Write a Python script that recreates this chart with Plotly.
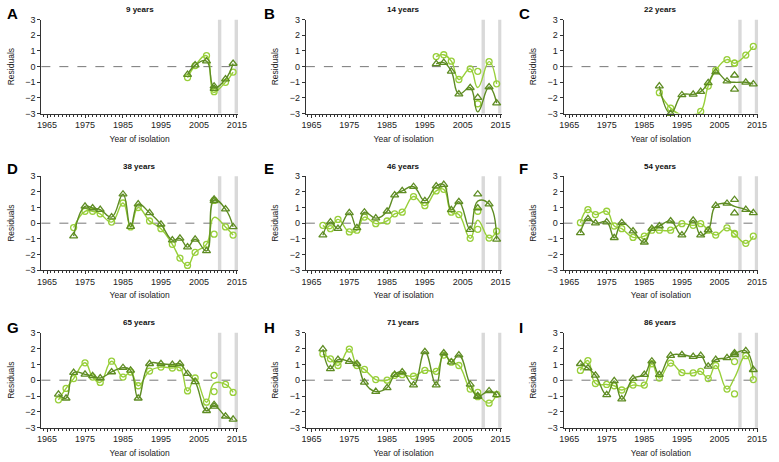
import plotly.graph_objects as go
from collections import OrderedDict

# ---------------- data ----------------
yrs_full = [1968, 1970, 1972, 1975, 1977, 1979, 1982, 1985, 1987, 1989, 1992,
            1995, 1998, 2000, 2002, 2004, 2007, 2009, 2009, 2012, 2014]

A_years = [2002, 2004, 2007, 2009, 2009, 2012, 2014]
A_light = [-0.7, 0.07, 0.7, -1.45, -1.6, -1.0, -0.35]
A_dark = [-0.51, 0.1, 0.35, -1.25, -1.4, -0.8, 0.2]

B_years = [1998, 2000, 2002, 2004, 2007, 2009, 2009, 2012, 2014]
B_light = [0.64, 0.76, 0.35, -0.82, -0.14, -0.3, -2.37, 0.32, -1.1]
B_dark = [0.18, 0.26, -0.3, -1.75, -1.35, -1.98, -3.8, -1.3, -2.33]

C_years = [1989, 1992, 1995, 1998, 2000, 2002, 2004, 2007, 2009, 2009, 2012, 2014]
C_light = [-1.66, -2.65, -3.1, -3.07, -2.86, -1.24, -0.24, 0.45, 0.22, 0.22, 0.74, 1.29]
C_dark = [-1.24, -3.0, -1.81, -1.77, -1.6, -1.04, -0.35, -0.93, -0.55, -1.45, -1.0, -1.12]

D_years = [1972, 1975, 1977, 1979, 1982, 1985, 1987, 1989, 1992, 1995, 1998,
           2000, 2002, 2004, 2007, 2009, 2009, 2012, 2014]
D_light = [-0.28, 0.76, 0.76, 0.6, 0.07, 1.29, -0.24, 1.0, 0.14, -0.35, -1.35,
           -2.23, -2.7, -1.87, -1.35, -0.7, 1.45, -0.24, -0.76]
D_dark = [-0.83, 1.08, 0.97, 0.87, 0.39, 1.85, -0.22, 1.22, 0.66, -0.07, -1.08,
          -0.97, -1.53, -1.03, -1.77, 1.53, 1.43, 0.9, -0.24]

E_years = yrs_full
E_light = [-0.14, -0.35, 0.24, -0.56, -0.45, 0.39, -0.03, 0.14, 0.6, 0.7, 1.7,
           1.12, 2.06, 2.16, 0.7, 0.55, -0.97, 0.76, -0.39, -0.95, -0.51]
E_dark = [-0.77, 0.07, -0.35, 0.66, -0.3, 0.7, 0.32, 0.76, 1.79, 2.06, 2.33,
          1.43, 2.37, 2.46, 0.85, 1.37, -0.41, 1.85, 0.97, 1.22, -1.04]

F_years = yrs_full
F_light = [0.03, 0.87, 0.55, 0.76, -0.18, -0.35, -0.91, -0.83, -0.45, -0.45, -0.45,
           -0.03, -0.14, -0.03, -0.45, -0.76, -0.3, -0.66, -0.7, -1.29, -0.83]
F_dark = [-0.62, 0.28, 0.0, 0.07, -0.93, 0.03, -0.51, -1.22, -0.35, -0.18, 0.14,
          -0.76, 0.18, -0.76, -0.45, 1.12, 1.26, 1.5, 0.64, 0.87, 0.66]

G_years = yrs_full
G_light = [-1.24, -0.52, 0.1, 1.1, 0.2, -0.14, 1.2, 0.2, 0.52, -0.35, 0.58,
           0.83, 0.77, 0.79, -0.68, 0.14, -1.39, 0.31, -0.72, -0.27, -0.77]
G_dark = [-0.89, -1.14, 0.48, 0.37, 0.27, 0.14, 0.52, 0.79, 0.62, -1.14, 1.04,
          1.04, 0.99, 1.04, 0.41, -0.1, -1.93, -1.66, -1.55, -2.28, -2.48]

H_years = yrs_full
H_light = [1.66, 1.35, 0.93, 1.97, 0.93, 0.68, 0.04, 0.0, 0.31, 0.35, 0.25,
           0.62, 0.56, 1.59, 1.14, 0.93, -0.56, -0.77, -1.04, -1.45, -0.89]
H_dark = [1.97, 0.72, 1.3, 1.18, 1.04, -0.14, -0.72, -0.48, 0.35, 0.52, -0.31,
          1.8, -0.31, 1.72, 1.14, 1.59, -0.27, -0.99, -1.04, -0.68, -0.93]

I_years = yrs_full
I_light = [0.62, 1.24, -0.21, -0.27, -0.35, -0.62, -0.31, -0.31, 1.04, 0.14, 1.08,
           0.48, 0.46, 0.56, 0.1, 0.93, -0.56, 1.18, -0.87, 1.55, 0.04]
I_dark = [1.04, 0.77, 0.31, -0.93, -0.04, -1.2, 0.1, 0.35, 1.2, 0.35, 1.55,
          1.61, 1.49, 1.55, 0.87, 1.3, 1.41, 1.72, 1.61, 1.86, 0.66]

panel_letters = ["A", "B", "C", "D", "E", "F", "G", "H", "I"]
panel_titles = ["9 years", "14 years", "22 years", "38 years", "46 years",
                "54 years", "65 years", "71 years", "86 years"]
panel_data = [(A_years, A_light, A_dark), (B_years, B_light, B_dark),
              (C_years, C_light, C_dark), (D_years, D_light, D_dark),
              (E_years, E_light, E_dark), (F_years, F_light, F_dark),
              (G_years, G_light, G_dark), (H_years, H_light, H_dark),
              (I_years, I_light, I_dark)]

x_tickvals = [1965, 1975, 1985, 1995, 2005, 2015]
y_tickvals = [-3, -2, -1, 0, 1, 2, 3]
highlight_years = [(2010.0, 2010.9), (2014.4, 2015.3)]

# ---------------- styling ----------------
W, H = 779, 462
LIGHT = "#98CF3A"
DARK = "#5E8C23"
FONT = "Arial, Liberation Sans, sans-serif"
AXC = "#333333"

cols_px = [(38, 238), (307, 506), (569, 767)]
rows_px = [(15, 111), (175, 271), (335, 432)]
title_y = [5, 165, 325]
letter_y = [9, 167, 330]
letter_x = [1, 262, 522]

fig = go.Figure()


def means(xs, ys):
    d = OrderedDict()
    for x, y in zip(xs, ys):
        d.setdefault(x, []).append(y)
    return list(d.keys()), [sum(v) / len(v) for v in d.values()]


annotations = []
shapes = []
for i, (yrs, light, dark) in enumerate(panel_data):
    r, c = divmod(i, 3)
    n = i + 1
    xa = "x" if n == 1 else f"x{n}"
    ya = "y" if n == 1 else f"y{n}"
    xl = "xaxis" if n == 1 else f"xaxis{n}"
    yl = "yaxis" if n == 1 else f"yaxis{n}"
    x0, x1 = cols_px[c]
    y0, y1 = rows_px[r]

    for vals, color, sym, size in [(light, LIGHT, "circle-open", 6),
                                   (dark, DARK, "triangle-up-open", 7)]:
        mx, my = means(yrs, vals)
        fig.add_trace(go.Scatter(x=mx, y=my, mode="lines",
                                 line=dict(color=color, width=1.4, shape="spline", smoothing=1.3),
                                 xaxis=xa, yaxis=ya, showlegend=False, hoverinfo="skip"))
        px_, py_ = zip(*[(x, y) for x, y in zip(yrs, vals) if -3.2 <= y <= 3.2])
        fig.add_trace(go.Scatter(x=list(px_), y=list(py_), mode="markers",
                                 marker=dict(symbol=sym, size=size, color=color,
                                             line=dict(width=1.3, color=color)),
                                 cliponaxis=False,
                                 xaxis=xa, yaxis=ya, showlegend=False))

    fig.update_layout({
        xl: dict(domain=[x0 / W, x1 / W], anchor=ya, range=[1963.5, 2015.3],
                 tickvals=x_tickvals, ticks="outside", ticklen=3, tickwidth=1,
                 tickcolor=AXC, showline=True, linecolor=AXC, linewidth=1,
                 showgrid=False, zeroline=False,
                 minor=dict(dtick=1, tick0=1965, ticks="outside", ticklen=2,
                            tickcolor=AXC, showgrid=False),
                 tickfont=dict(size=9, color="#222", family=FONT),
                 title=dict(text="Year of isolation", font=dict(size=8.5, color="#222", family=FONT),
                            standoff=6)),
        yl: dict(domain=[1 - y1 / H, 1 - y0 / H], anchor=xa, range=[-3, 3],
                 tickvals=y_tickvals, ticks="outside", ticklen=3, tickwidth=1,
                 tickcolor=AXC, showline=True, linecolor=AXC, linewidth=1,
                 showgrid=False, zeroline=False,
                 tickfont=dict(size=9, color="#222", family=FONT),
                 title=dict(text="Residuals", font=dict(size=8.5, color="#222", family=FONT),
                            standoff=9)),
    })

    shapes.append(dict(type="line", xref=f"{xa} domain", yref=ya, x0=0, x1=1, y0=0, y1=0,
                       line=dict(color="#777777", width=1, dash="dash"), layer="below"))
    for hx0, hx1 in highlight_years:
        shapes.append(dict(type="rect", xref=xa, yref=f"{ya} domain", x0=hx0, x1=hx1,
                           y0=0, y1=1, fillcolor="#D9D9D9", line=dict(width=0), layer="below"))

    annotations.append(dict(text=f"<b>{panel_titles[i]}</b>", xref="paper", yref="paper",
                            x=(x0 + x1) / 2 / W, y=1 - title_y[r] / H, showarrow=False,
                            xanchor="center", yanchor="middle",
                            font=dict(size=8, color="#111", family=FONT)))
    annotations.append(dict(text=f"<b>{panel_letters[i]}</b>", xref="paper", yref="paper",
                            x=letter_x[c] / W, y=1 - letter_y[r] / H, showarrow=False,
                            xanchor="left", yanchor="middle",
                            font=dict(size=15, color="#000", family=FONT)))

fig.update_layout(width=W, height=H, margin=dict(l=0, r=0, t=0, b=0),
                  paper_bgcolor="white", plot_bgcolor="white", hovermode=False,
                  font=dict(family=FONT), annotations=annotations, shapes=shapes)

fig.write_html("out.html", config={"displayModeBar": False},
               post_script="document.body.style.margin='0px';document.body.style.overflow='hidden';")
